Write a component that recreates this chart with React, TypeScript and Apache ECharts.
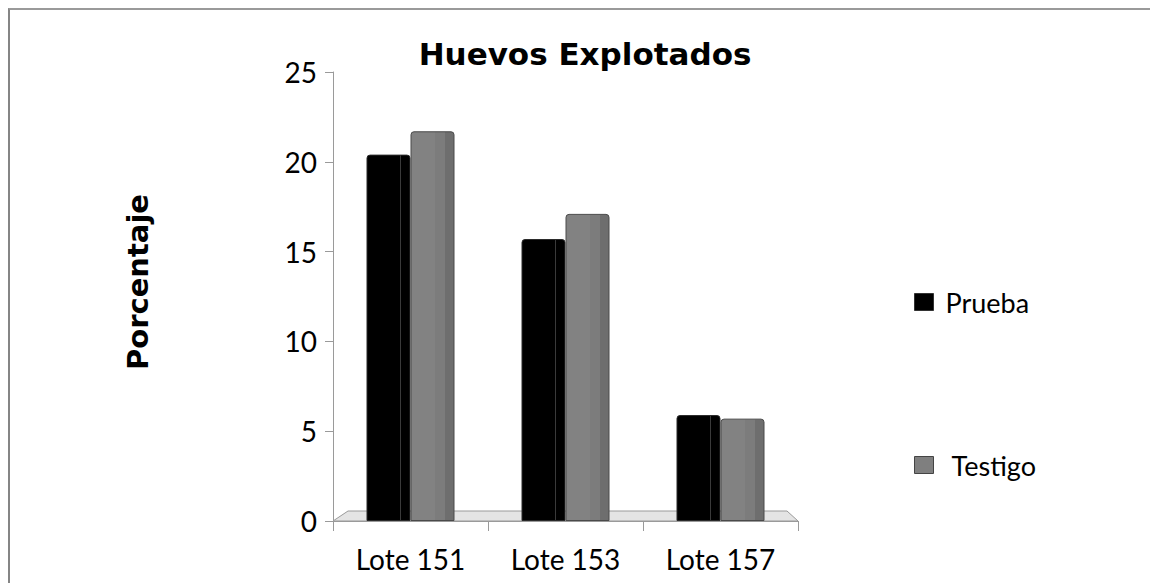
import React, { useEffect, useRef } from "react";
import * as echarts from "echarts";

const categories = ["Lote 151", "Lote 153", "Lote 157"];
const prueba = [20.4, 15.7, 5.9];
const testigo = [21.7, 17.1, 5.7];
const seriesNames = ["Prueba", "Testigo"];
const yMin = 0;
const yMax = 25;
const yInterval = 5;

export default function App() {
  const ref = useRef<HTMLDivElement>(null);

  useEffect(() => {
    document.body.style.overflow = "hidden";
    const chart = echarts.init(ref.current!, null, { renderer: "svg" });
    const grayGrad = new echarts.graphic.LinearGradient(0, 0, 1, 0, [
      { offset: 0, color: "#828282" },
      { offset: 0.55, color: "#828282" },
      { offset: 0.55, color: "#7c7c7c" },
      { offset: 0.8, color: "#7c7c7c" },
      { offset: 0.8, color: "#6e6e6e" },
      { offset: 1, color: "#6e6e6e" },
    ]);
    const blackGrad = new echarts.graphic.LinearGradient(0, 0, 1, 0, [
      { offset: 0, color: "#000" },
      { offset: 0.76, color: "#000" },
      { offset: 0.76, color: "#3a3a3a" },
      { offset: 0.79, color: "#3a3a3a" },
      { offset: 0.79, color: "#000" },
      { offset: 1, color: "#000" },
    ]);
    const yName = {
      type: "text",
      x: 128,
      y: 272,
      rotation: Math.PI / 2,
      style: {
        text: "Porcentaje",
        fontFamily: "DejaVu Sans",
        fontWeight: "bold",
        fontSize: 29,
        fill: "#000",
        textAlign: "center",
        textVerticalAlign: "middle",
      },
    };
    chart.setOption({
      animation: false,
      title: {
        text: "Huevos Explotados",
        left: "center",
        top: 23,
        textStyle: {
          fontFamily: "DejaVu Sans",
          fontWeight: "bold",
          fontSize: 31,
          color: "#000",
        },
      },
      legend: {
        orient: "vertical",
        left: 904,
        top: 276,
        padding: 0,
        itemWidth: 19,
        itemHeight: 17,
        itemGap: 131,
        icon: "rect",
        formatter: (n: string) => (n === "Testigo" ? " " + n : n),
        textStyle: {
          fontFamily: "Lato",
          fontSize: 27,
          lineHeight: 28,
          color: "#000",
          padding: [4, 0, 0, 7],
        },
        data: [
          { name: seriesNames[0], itemStyle: { color: "#000", borderColor: "#333", borderWidth: 1 } },
          { name: seriesNames[1], itemStyle: { color: "#7f7f7f", borderColor: "#444", borderWidth: 1 } },
        ],
      },
      grid: { left: 323, top: 62, width: 465, height: 449 },
      xAxis: {
        type: "category",
        data: categories,
        axisLine: { lineStyle: { color: "#9a9a9a", width: 1 } },
        axisTick: { show: true, length: 10, lineStyle: { color: "#9a9a9a" } },
        axisLabel: {
          fontFamily: "Lato",
          fontSize: 28,
          color: "#000",
          margin: 24,
        },
      },
      yAxis: {
        type: "value",
        min: yMin,
        max: yMax,
        interval: yInterval,
        axisLine: { show: true, lineStyle: { color: "#9a9a9a", width: 1 } },
        axisTick: { show: true, length: 8, lineStyle: { color: "#9a9a9a" } },
        splitLine: { show: false },
        axisLabel: {
          fontFamily: "Lato",
          fontSize: 28,
          color: "#000",
          margin: 16,
        },
      },
      graphic: [yName],
      series: [
        {
          name: seriesNames[0],
          type: "bar",
          data: prueba,
          barWidth: 44,
          barGap: "0%",
          z: 3,
          itemStyle: { color: blackGrad, borderColor: "#2a2a2a", borderWidth: 1, borderRadius: [3, 3, 0, 0] },
        },
        {
          name: seriesNames[1],
          type: "bar",
          data: testigo,
          barWidth: 44,
          barGap: "0%",
          z: 3,
          itemStyle: { color: grayGrad, borderColor: "#4a4a4a", borderWidth: 1, borderRadius: [3, 3, 0, 0] },
        },
      ],
    });

    const c0 = chart.convertToPixel({ xAxisIndex: 0 }, categories[0]) as number;
    const c1 = chart.convertToPixel({ xAxisIndex: 0 }, categories[1]) as number;
    const step = c1 - c0;
    const left = c0 - step / 2;
    const right = left + categories.length * step;
    const y0 = chart.convertToPixel({ yAxisIndex: 0 }, yMin) as number;
    chart.setOption({
      graphic: [
        yName,
        {
          type: "polygon",
          z: 1,
          shape: {
            points: [
              [left, y0],
              [left + 15, y0 - 10],
              [right - 11, y0 - 10],
              [right, y0],
            ],
          },
          style: { fill: "#e4e4e4", stroke: "#9a9a9a", lineWidth: 1 },
        },
      ],
    });

    return () => chart.dispose();
  }, []);

  return (
    <div
      ref={ref}
      style={{
        width: 1150,
        height: 575,
        borderTop: "2px solid #9a9a9a",
        borderLeft: "2px solid #858585",
      }}
    />
  );
}
